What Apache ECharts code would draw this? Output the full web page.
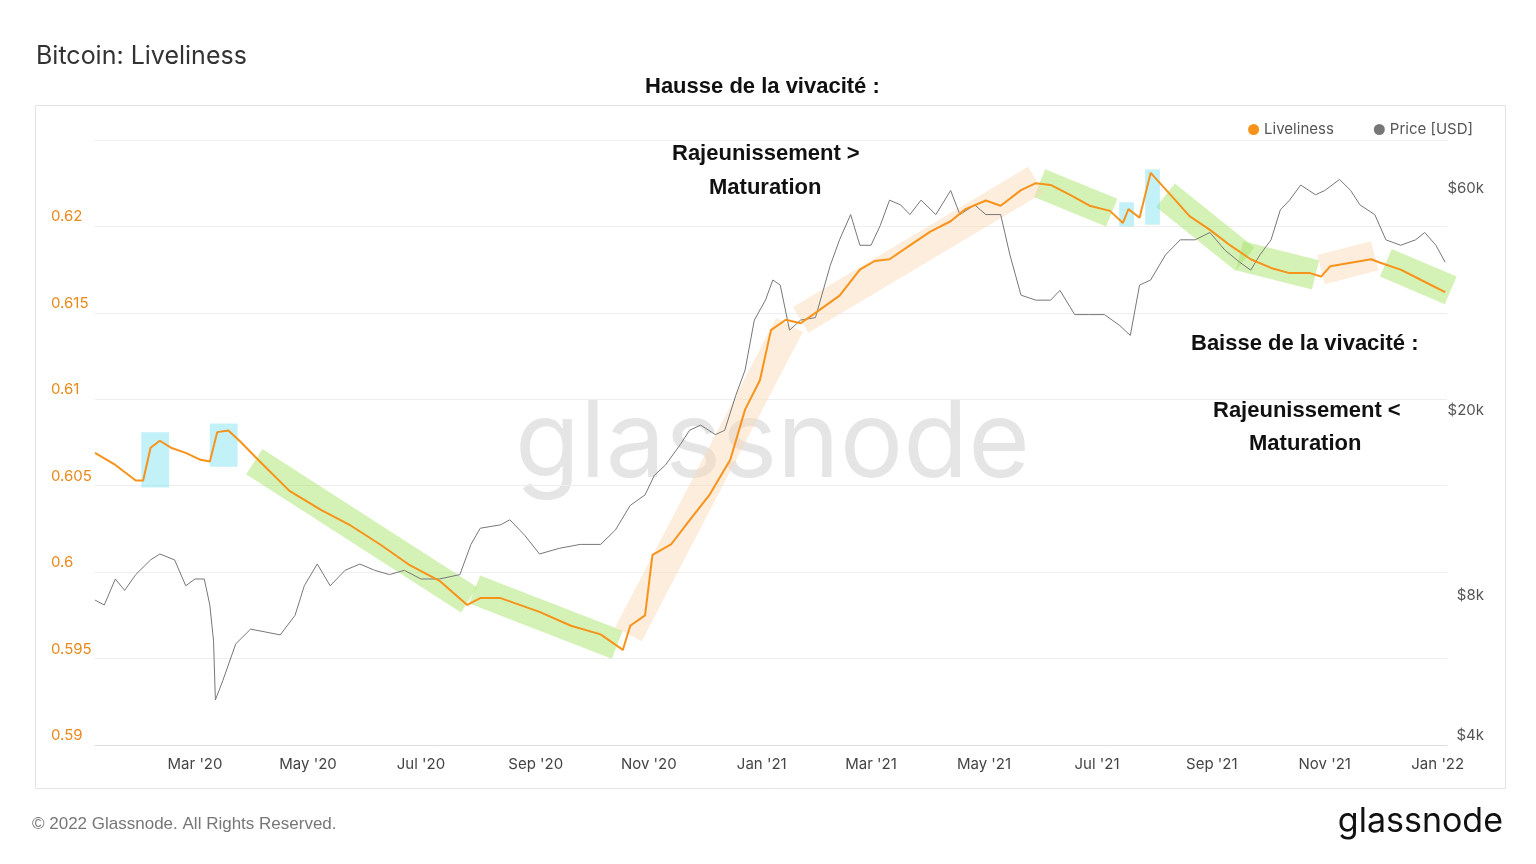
<!DOCTYPE html><html><head><meta charset="utf-8">
<script src="https://cdn.jsdelivr.net/npm/echarts@6/dist/echarts.min.js"></script>
<style>html,body{margin:0;padding:0;background:#fff}#c{width:1536px;height:864px}</style></head><body><div id="c"></div>
<script>
const START = Date.UTC(2020,0,7);
const DAY = 86400000;
const liveDays = [0,11,22,26,30,35,41,49,57,62,66,72,78,89,105,122,138,154,170,186,201,208,219,240,257,273,285,289,297,301,311,321,332,343,351,359,365,373,381,389,402,413,421,429,440,451,462,470,481,489,500,508,516,527,537,548,555,558,564,570,581,591,602,613,624,635,645,656,662,667,678,689,694,705,716,729];
const liveVals = [0.6069,0.6062,0.6053,0.6053,0.6072,0.6076,0.6072,0.6069,0.6065,0.6064,0.6081,0.6082,0.6076,0.6064,0.6047,0.6036,0.6027,0.6016,0.6004,0.5995,0.5981,0.5985,0.5985,0.5977,0.5969,0.5964,0.5955,0.5969,0.5975,0.6010,0.6016,0.6030,0.6045,0.6065,0.6094,0.6111,0.6140,0.6146,0.6144,0.6150,0.6160,0.6175,0.6180,0.6181,0.6189,0.6197,0.6203,0.6210,0.6215,0.6212,0.6221,0.6225,0.6224,0.6218,0.6212,0.6209,0.6202,0.6210,0.6205,0.6231,0.6218,0.6206,0.6198,0.6189,0.6181,0.6176,0.6173,0.6173,0.6171,0.6177,0.6179,0.6181,0.6179,0.6175,0.6169,0.6162];
const priceDays = [0,5,11,16,22,30,35,43,49,54,59,62,64,65,69,76,84,92,100,108,113,120,127,135,143,151,159,167,176,186,197,203,208,219,224,232,240,251,262,273,281,289,297,302,308,316,321,327,335,340,346,351,356,362,366,370,375,381,389,397,402,408,413,419,424,429,435,440,446,454,462,467,475,481,489,494,500,508,516,521,529,537,545,553,559,564,570,578,586,594,602,610,618,624,629,635,640,645,651,659,664,672,678,683,691,697,705,713,718,724,729];
const priceVals = [8200,8000,9100,8600,9300,10000,10300,10000,8800,9100,9100,8000,6700,5000,5500,6600,7100,7000,6900,7600,8800,9800,8800,9500,9800,9500,9300,9500,9100,9100,9300,10800,11700,11900,12200,11300,10300,10600,10800,10800,11600,13100,13800,15200,16000,17700,19000,19500,18600,19000,22600,25600,32800,36200,40000,39000,31200,32800,33200,43000,48800,55300,47500,47500,52400,59400,58000,55300,59400,55300,62300,55300,58000,55300,55300,45300,37100,36200,36200,38000,33700,33700,33700,32000,30400,39000,40000,45300,48800,48800,50600,46400,43700,42000,45300,48800,56600,59400,64000,61000,62300,65800,62300,58000,55300,48800,47500,48800,50600,47500,43700];
const liveTicks = [0.59,0.595,0.6,0.605,0.61,0.615,0.62];
const priceTicks = [4000,8000,20000,60000];
const monthTicks = ['2020-03-01','2020-05-01','2020-07-01','2020-09-01','2020-11-01','2021-01-01','2021-03-01','2021-05-01','2021-07-01','2021-09-01','2021-11-01','2022-01-01'];
// bands: [day1, value1, day2, value2]
const greenBands = [[86,0.6064,202,0.5984],[205,0.5990,282,0.5958],[510,0.6225,549,0.6208],[578,0.6218,621,0.6181],[618,0.6183,659,0.6172],[697,0.6179,732,0.6163]];
const orangeBands = [[288,0.5964,375,0.6143],[381,0.6146,508,0.6227],[662,0.6175,691,0.6183]];
const cyanBoxes = [[25,0.6081,40,0.6049],[62,0.6086,77,0.6061],[553,0.6214,561,0.6200],[567,0.6233,575,0.6201]];

const t = d => START + d*DAY;
const live = liveDays.map((d,i)=>[t(d),liveVals[i]]);
const price = priceDays.map((d,i)=>[t(d),priceVals[i]]);
const bandData = greenBands.map(b=>[t(b[0]),b[1],t(b[2]),b[3],0]).concat(orangeBands.map(b=>[t(b[0]),b[1],t(b[2]),b[3],1]));
const boxData = cyanBoxes.map(b=>[t(b[0]),b[1],t(b[2]),b[3]]);

const chart = echarts.init(document.getElementById('c'));
const monthNames=['Jan','Feb','Mar','Apr','May','Jun','Jul','Aug','Sep','Oct','Nov','Dec'];
chart.setOption({
  animation:false,
  textStyle:{fontFamily:'Inter, Roboto, sans-serif'},
  title:[{text:'Bitcoin: Liveliness',left:31,top:39,textStyle:{fontSize:25,fontWeight:'normal',color:'#333'}}],
  legend:{right:58,top:117,itemWidth:11,itemHeight:11,itemGap:40,textStyle:{fontSize:15,color:'#555'},
    data:[{name:'Liveliness',icon:'circle'},{name:'Price [USD]',icon:'circle'}]},
  grid:{left:95,right:89,top:140,bottom:119},
  xAxis:{type:'value',min:START,max:t(730),
    axisLine:{show:true,lineStyle:{color:'#ddd'}},axisTick:{show:false},splitLine:{show:false},
    axisLabel:{customValues:monthTicks.map(s=>Date.parse(s+'T00:00:00Z')),
      formatter:v=>{const d=new Date(v);return monthNames[d.getUTCMonth()]+" '"+String(d.getUTCFullYear()).slice(2);},
      color:'#444',fontSize:15,margin:12}},
  yAxis:[{type:'value',min:0.59,max:0.625,interval:0.005,position:'left',
      axisLine:{show:false},axisTick:{show:false},splitLine:{lineStyle:{color:'#eee'}},
      axisLabel:{margin:-1,align:'left',verticalAlign:'bottom',padding:[0,0,2,-45],color:'#e8891a',fontSize:15,
        formatter:v=>liveTicks.some(x=>Math.abs(x-v)<1e-6)?String(+v.toFixed(3)):''}},
    {type:'log',min:4000,max:80000,position:'right',
      axisLine:{show:false},axisTick:{show:false},splitLine:{show:false},
      axisLabel:{customValues:priceTicks,color:'#555',fontSize:15,align:'right',margin:37,verticalAlign:'bottom',padding:[0,0,2,0],
        formatter:v=>'$'+Math.round(v/1000)+'k'}}],
  series:[
    {type:'custom',name:'bands',xAxisIndex:0,yAxisIndex:0,silent:true,z:1,data:bandData,
      renderItem:(p,api)=>{const a=api.coord([api.value(0),api.value(1)]),b=api.coord([api.value(2),api.value(3)]);
        const dx=b[0]-a[0],dy=b[1]-a[1],L=Math.hypot(dx,dy),h=15,nx=-dy/L*h,ny=dx/L*h;
        return {type:'polygon',shape:{points:[[a[0]+nx,a[1]+ny],[b[0]+nx,b[1]+ny],[b[0]-nx,b[1]-ny],[a[0]-nx,a[1]-ny]]},
          style:{fill:api.value(4)===0?'rgba(170,230,110,0.5)':'rgba(250,215,180,0.45)'}};}},
    {type:'custom',name:'boxes',xAxisIndex:0,yAxisIndex:0,silent:true,z:1,data:boxData,
      renderItem:(p,api)=>{const a=api.coord([api.value(0),api.value(1)]),b=api.coord([api.value(2),api.value(3)]);
        return {type:'rect',shape:{x:a[0],y:a[1],width:b[0]-a[0],height:b[1]-a[1]},style:{fill:'rgba(120,225,240,0.45)'}};}},
    {type:'line',name:'Price [USD]',yAxisIndex:1,data:price,showSymbol:false,z:3,
      lineStyle:{color:'#777',width:1},itemStyle:{color:'#777'}},
    {type:'line',name:'Liveliness',yAxisIndex:0,data:live,showSymbol:false,z:4,
      lineStyle:{color:'#f7931a',width:2},itemStyle:{color:'#f7931a'}}
  ],
  graphic:[
    {type:'rect',left:33,top:103,shape:{width:1470,height:683},style:{fill:'none',stroke:'#e3e3e3',lineWidth:1},z:-1},
    {type:'text',left:515,top:392,z:0,style:{text:'glassnode',fontSize:106,fill:'rgba(0,0,0,0.1)',fontFamily:'Inter, sans-serif'}},
    {type:'text',left:645,top:76,style:{text:'Hausse de la vivacité :',fontSize:22,fontWeight:'bold',fill:'#111'}},
    {type:'text',left:672,top:143,style:{text:'Rajeunissement >',fontSize:22,fontWeight:'bold',fill:'#111'}},
    {type:'text',left:709,top:177,style:{text:'Maturation',fontSize:22,fontWeight:'bold',fill:'#111'}},
    {type:'text',left:1191,top:333,style:{text:'Baisse de la vivacité :',fontSize:22,fontWeight:'bold',fill:'#111'}},
    {type:'text',left:1213,top:400,style:{text:'Rajeunissement <',fontSize:22,fontWeight:'bold',fill:'#111'}},
    {type:'text',left:1249,top:433,style:{text:'Maturation',fontSize:22,fontWeight:'bold',fill:'#111'}},
    {type:'text',left:32,top:816,style:{text:'© 2022 Glassnode. All Rights Reserved.',fontSize:17,fill:'#777'}},
    {type:'text',right:33,top:805,style:{text:'glassnode',fontSize:34,fill:'#111',fontFamily:'Inter, sans-serif'}}
  ]
});
</script></body></html>
